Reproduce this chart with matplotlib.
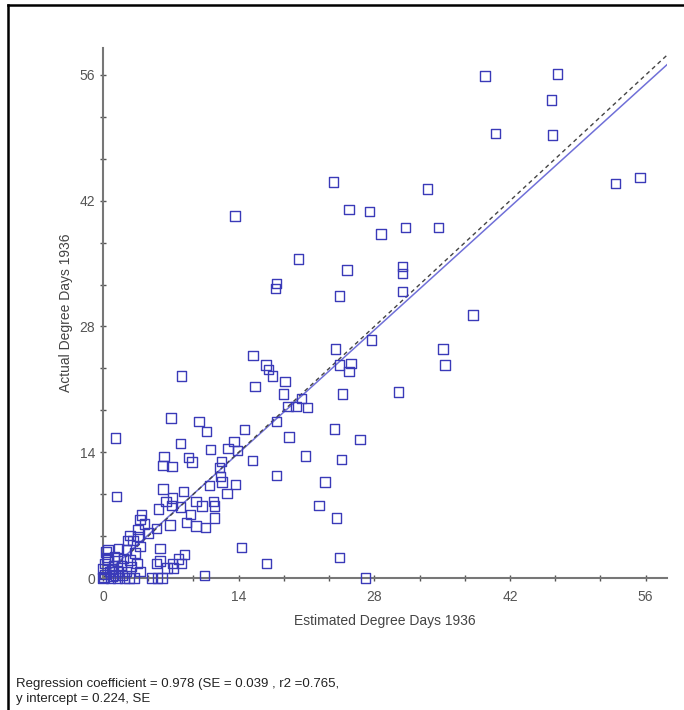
import numpy as np
import matplotlib
matplotlib.use("Agg")
import matplotlib.pyplot as plt
from matplotlib.ticker import MultipleLocator

plt.rcParams["font.family"] = ["Liberation Sans", "DejaVu Sans"]

# estimated vs actual degree days
estimated = [39.4, 46.9, 46.3, 40.5, 46.4, 52.9, 55.4, 33.5, 23.8, 13.6,
             25.4, 27.5, 28.7, 31.2, 34.6, 20.2, 25.2, 30.9, 30.9, 17.9,
             17.8, 24.4, 30.9, 38.2, 27.7, 24.0, 35.1, 35.3, 24.4, 25.6,
             25.4, 30.5, 24.7, 23.9, 26.5, 24.6, 22.9, 22.3, 24.1, 24.4,
             27.1, 15.5, 16.8, 17.1, 17.5, 18.8, 15.7, 18.6, 20.5, 19.1,
             19.9, 21.1, 17.9, 19.2, 20.9, 17.9, 16.9, 14.3, 10.5, 8.1,
             14.6, 15.4, 1.3, 7.0, 9.9, 10.7, 8.0, 11.1, 13.5, 12.9,
             13.9, 6.3, 8.8, 9.2, 6.2, 7.1, 12.2, 12.0, 12.1, 12.3,
             11.0, 13.7, 12.8, 1.4, 6.2, 8.3, 7.2, 6.5, 5.7, 9.6,
             10.2, 11.4, 11.5, 7.1, 8.0, 9.0, 8.6, 9.6, 10.6, 11.5,
             6.9, 5.5, 8.4, 8.1, 7.8, 7.2, 7.3, 6.6, 5.9, 5.5,
             5.9, 5.0, 5.6, 6.1,
             4.0, 3.8, 4.3, 3.6, 3.6, 2.8, 2.5, 3.1, 4.7, 3.8,
             1.6, 0.5, 2.4, 3.3, 0.4, 1.2, 2.1, 2.8, 0.2, 1.1,
             1.9, 2.9, 3.5, 3.8, 0.7, 1.6, 2.4, 0.0, 0.8, 1.5,
             2.2, 2.7, 3.2, 0.2, 0.9, 1.3, 2.0, 0.5, 1.5, 0.0,
             0.3, 0.1, 1.0]
actual = [55.9, 56.1, 53.2, 49.5, 49.3, 43.9, 44.6, 43.3, 44.1, 40.3,
          41.0, 40.8, 38.3, 39.0, 39.0, 35.5, 34.3, 34.7, 33.9, 32.8,
          32.2, 31.4, 31.9, 29.3, 26.5, 25.5, 25.5, 23.7, 23.7, 23.9,
          23.0, 20.7, 20.5, 16.6, 15.4, 13.2, 10.7, 8.1, 6.7, 2.3,
          0.0, 24.8, 23.7, 23.2, 22.5, 21.9, 21.3, 20.5, 20.0, 19.1,
          19.1, 19.0, 17.4, 15.7, 13.6, 11.4, 1.6, 3.4, 0.3, 22.5,
          16.5, 13.1, 15.6, 17.8, 17.4, 16.3, 15.0, 14.3, 15.2, 14.4,
          14.2, 13.5, 13.4, 12.9, 12.5, 12.4, 13.0, 12.3, 11.3, 10.7,
          10.3, 10.4, 9.4, 9.1, 9.9, 9.6, 8.9, 8.5, 7.7, 8.5,
          8.0, 8.5, 8.0, 8.1, 7.9, 7.1, 6.2, 5.8, 5.6, 6.7,
          5.9, 5.5, 2.6, 1.6, 2.1, 1.6, 1.1, 1.1, 3.3, 1.6,
          1.9, 0.0, 0.0, 0.0,
          7.0, 6.5, 6.0, 5.4, 4.6, 4.7, 4.2, 4.2, 5.0, 3.5,
          3.3, 3.2, 3.1, 2.8, 2.3, 2.4, 2.2, 2.0, 1.6, 1.4,
          1.4, 1.3, 1.6, 0.7, 0.7, 0.7, 0.7, 0.0, 0.0, 0.0,
          0.0, 0.0, 0.0, 0.4, 1.0, 0.3, 0.3, 2.0, 1.9, 1.0,
          2.9, 0.1, 0.2]

slope = 0.978
intercept = 0.224
stats_text = "Regression coefficient = 0.978 (SE = 0.039 , r2 =0.765,\ny intercept = 0.224, SE"

fig = plt.figure(figsize=(6.84, 7.10), dpi=100)
ax = fig.add_axes([103 / 684, 132 / 710, 564 / 684, 530 / 710])

ax.scatter(estimated, actual, marker="s", s=46, facecolors="none",
           edgecolors="#3a3ab8", linewidths=1.0, clip_on=False, zorder=3)

## fitted line and 1:1 line
xs = np.array([0, 58.2])
ax.plot(xs, slope * xs + intercept, color="#7070d8", lw=1.1, zorder=2)
ax.plot(xs, xs, color="#444444", lw=1.0, dashes=(3, 2.5), zorder=2)

ax.set_xlim(0, 58.2)
ax.set_ylim(0, 59)
ax.xaxis.set_major_locator(MultipleLocator(14))
ax.yaxis.set_major_locator(MultipleLocator(14))
ax.xaxis.set_minor_locator(MultipleLocator(14 / 3))
ax.yaxis.set_minor_locator(MultipleLocator(14 / 3))
ax.tick_params(which="both", direction="inout", length=5, width=1, color="#555555")
ax.tick_params(axis="x", which="major", labelsize=10, labelcolor="#555555", pad=6)
ax.tick_params(axis="y", which="major", labelsize=10, labelcolor="#555555", pad=3)

for side in ["top", "right"]:
    ax.spines[side].set_visible(False)
for side in ["left", "bottom"]:
    ax.spines[side].set_color("#777777")
    ax.spines[side].set_linewidth(1.5)

ax.set_xlabel("Estimated Degree Days 1936", fontsize=10, color="#444444", labelpad=7)
ax.set_ylabel("Actual Degree Days 1936", fontsize=10, color="#444444", labelpad=5)

fig.text(16 / 684, 1 - 678 / 710, stats_text, fontsize=9.5, color="#222222",
         va="top", linespacing=1.3)

# frame on the top and left edges of the picture
fig.add_artist(plt.Line2D([8 / 684, 1], [1 - 5 / 710] * 2, color="black", lw=1.8))
fig.add_artist(plt.Line2D([8 / 684] * 2, [0, 1 - 5 / 710], color="black", lw=1.8))

plt.savefig("out.png", dpi=100)
